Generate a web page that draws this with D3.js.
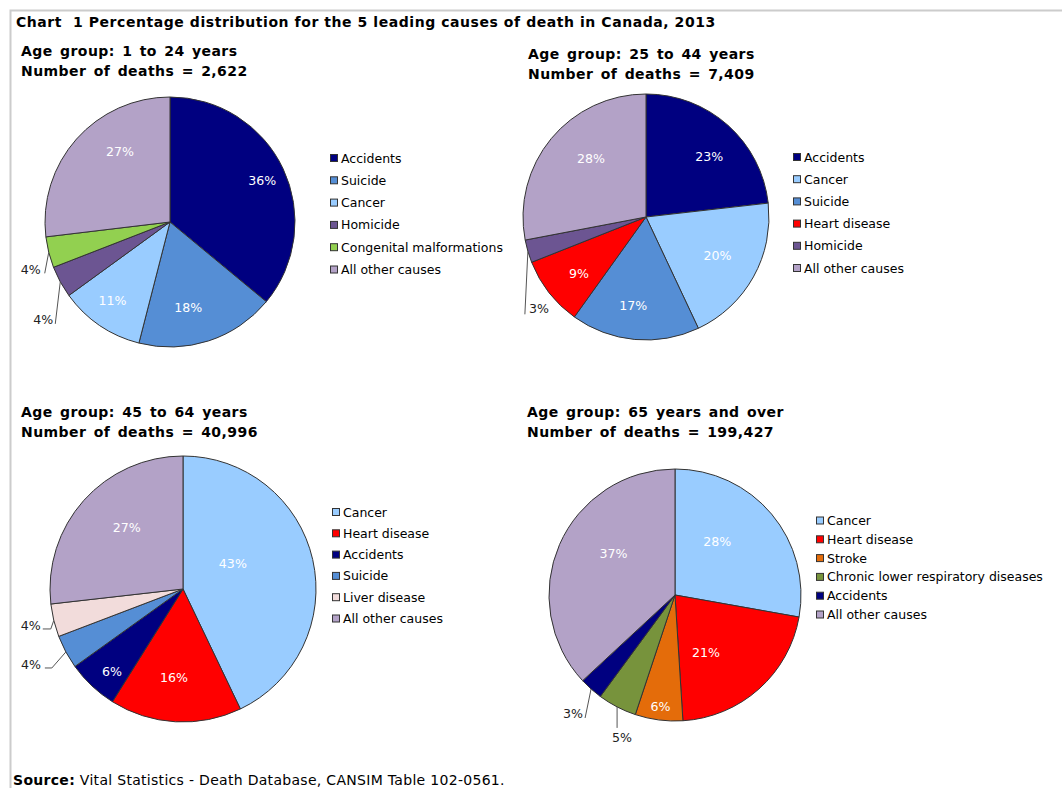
<!DOCTYPE html>
<html>
<head>
<meta charset="utf-8">
<script src="https://cdn.jsdelivr.net/npm/d3@7"></script>
<style>
  body { margin: 0; background: #fff; }
  svg text { font-family: "DejaVu Sans", Verdana, sans-serif; }
</style>
</head>
<body>
<svg id="chart" width="1062" height="788"></svg>
<script>
// ---- data (percent of deaths) ----
var causes1 = ["Accidents", "Suicide", "Cancer", "Homicide", "Congenital malformations", "All other causes"];
var values1 = [36.0, 18.0, 11.0, 4.1, 4.0, 26.9];

var causes2 = ["Accidents", "Cancer", "Suicide", "Heart disease", "Homicide", "All other causes"];
var values2 = [23.2, 19.8, 16.9, 9.1, 3.0, 28.0];

var causes3 = ["Cancer", "Heart disease", "Accidents", "Suicide", "Liver disease", "All other causes"];
var values3 = [42.9, 16.0, 6.2, 4.1, 4.0, 26.8];

var causes4 = ["Cancer", "Heart disease", "Stroke", "Chronic lower respiratory diseases", "Accidents", "All other causes"];
var values4 = [27.8, 21.2, 6.1, 5.0, 3.0, 36.9];

var ageGroups = ["1 to 24 years", "25 to 44 years", "45 to 64 years", "65 years and over"];
var deaths = ["2,622", "7,409", "40,996", "199,427"];

var causeColor = {
  "Accidents": "#000080",
  "Suicide": "#558ed5",
  "Cancer": "#99ccff",
  "Homicide": "#6c5592",
  "Congenital malformations": "#92d050",
  "All other causes": "#b3a2c7",
  "Heart disease": "#ff0000",
  "Liver disease": "#f2dcdb",
  "Stroke": "#e46c0a",
  "Chronic lower respiratory diseases": "#77933c"
};

// ---- layout of each panel ----
// lab: [radius fraction, angle nudge in degrees] for inside labels, null = outside label
// out: leader line points and label offset, relative to the slice's edge point
var panels = [
  {causes: causes1, values: values1, cx: 170, cy: 222, r: 125, hx: 21, hy: 56,
   lx: 330, ly: 158, step: 22.3,
   lab: [[0.81, 1], [0.70, 6], [0.78, 2], null, null, [0.69, 13]],
   out: {3: {pts: [[-5, 42]], tx: -7, ty: 42, anchor: "end"},
         4: {pts: [[-4, 21]], tx: -8, ty: 22, anchor: "end"}}},
  {causes: causes2, values: values2, cx: 646, cy: 217, r: 123, hx: 528, hy: 59,
   lx: 793, ly: 157, step: 22.2,
   lab: [[0.71, 4.6], [0.66, -1], [0.73, 3], [0.71, -2], null, [0.65, 7]],
   out: {4: {pts: [[-3, 63]], tx: 1, ty: 62, anchor: "start"}}},
  {causes: causes3, values: values3, cx: 183, cy: 589, r: 133, hx: 21, hy: 417,
   lx: 332, ly: 512, step: 21.3,
   lab: [[0.42, -14], [0.67, 2.6], [0.82, -2.5], null, null, [0.63, 6]],
   out: {3: {pts: [[-14, 16], [-21, 16]], tx: -25, ty: 17, anchor: "end"},
         4: {pts: [[-3, 8.5], [-11, 8.5]], tx: -13, ty: 9.5, anchor: "end"}}},
  {causes: causes4, values: values4, cx: 675, cy: 595, r: 126, hx: 527, hy: 417,
   lx: 816, ly: 520.5, step: 18.8,
   lab: [[0.54, -11.6], [0.52, 13.5], [0.89, 0], null, null, [0.59, 10.5]],
   out: {3: {pts: [[0, 21]], tx: 5, ty: 35, anchor: "middle"},
         4: {pts: [[-6, 29]], tx: -8, ty: 29, anchor: "end"}}}
];

var svg = d3.select("#chart");

// frame
svg.append("path")
  .attr("d", "M10.5,788V10.5H1062")
  .attr("fill", "none")
  .attr("stroke", "#cccccc")
  .attr("stroke-width", 2);

svg.append("text")
  .attr("x", 16).attr("y", 27)
  .style("font-size", "14px").style("font-weight", "bold")
  .style("letter-spacing", "0.56px")
  .style("white-space", "pre")
  .attr("fill", "#000")
  .text("Chart  1 Percentage distribution for the 5 leading causes of death in Canada, 2013");

var pct = d3.format(".0f");
var pie = d3.pie().sort(null).value(function(d) { return d; });

panels.forEach(function(p, k) {
  var g = svg.append("g");

  g.append("text")
    .attr("x", p.hx).attr("y", p.hy)
    .style("font-size", "14px").style("font-weight", "bold")
    .style("letter-spacing", "0.45px").style("word-spacing", "2px")
    .text("Age group: " + ageGroups[k]);
  g.append("text")
    .attr("x", p.hx).attr("y", p.hy + 20)
    .style("font-size", "14px").style("font-weight", "bold")
    .style("letter-spacing", "0.45px").style("word-spacing", "2px")
    .text("Number of deaths = " + deaths[k]);

  var arcs = pie(p.values);
  var arc = d3.arc().innerRadius(0).outerRadius(p.r);

  var pg = g.append("g").attr("transform", "translate(" + p.cx + "," + p.cy + ")");

  pg.selectAll("path.slice")
    .data(arcs)
    .enter().append("path")
    .attr("class", "slice")
    .attr("d", arc)
    .attr("fill", function(d, i) { return causeColor[p.causes[i]]; })
    .attr("stroke", "#333")
    .attr("stroke-width", 1)
    .attr("stroke-linejoin", "round");

  arcs.forEach(function(d, i) {
    var mid = (d.startAngle + d.endAngle) / 2;
    var txt = pct(d.value) + "%";
    if (p.lab[i]) {
      var a = mid + p.lab[i][1] * Math.PI / 180;
      var rr = p.r * p.lab[i][0];
      pg.append("text")
        .attr("x", rr * Math.sin(a))
        .attr("y", -rr * Math.cos(a))
        .attr("dy", "0.36em")
        .attr("text-anchor", "middle")
        .attr("fill", "#fff")
        .style("font-size", "12.6px")
        .text(txt);
    } else {
      var o = p.out[i];
      var ex = p.r * Math.sin(mid), ey = -p.r * Math.cos(mid);
      var pts = [[ex, ey]].concat(o.pts.map(function(q) { return [ex + q[0], ey + q[1]]; }));
      pg.append("path")
        .attr("d", d3.line()(pts))
        .attr("fill", "none")
        .attr("stroke", "#555")
        .attr("stroke-width", 1);
      pg.append("text")
        .attr("x", ex + o.tx)
        .attr("y", ey + o.ty)
        .attr("text-anchor", o.anchor)
        .attr("fill", "#222")
        .style("font-size", "12.6px")
        .text(txt);
    }
  });

  // legend
  var leg = g.selectAll("g.leg")
    .data(p.causes)
    .enter().append("g")
    .attr("transform", function(d, i) { return "translate(" + p.lx + "," + (p.ly + i * p.step) + ")"; });
  leg.append("rect")
    .attr("x", 0.5).attr("y", -3.5)
    .attr("width", 7).attr("height", 7)
    .attr("fill", function(d) { return causeColor[d]; })
    .attr("stroke", "#333").attr("stroke-width", 1);
  leg.append("text")
    .attr("x", 11).attr("dy", "0.36em")
    .attr("fill", "#000")
    .style("font-size", "12.5px")
    .text(function(d) { return d; });
});

var src = svg.append("text").attr("x", 13).attr("y", 785)
  .style("font-size", "14px").style("letter-spacing", "0.3px");
src.append("tspan").style("font-weight", "bold").text("Source:");
src.append("tspan").text(" Vital Statistics - Death Database, CANSIM Table 102-0561.");
</script>
</body>
</html>
